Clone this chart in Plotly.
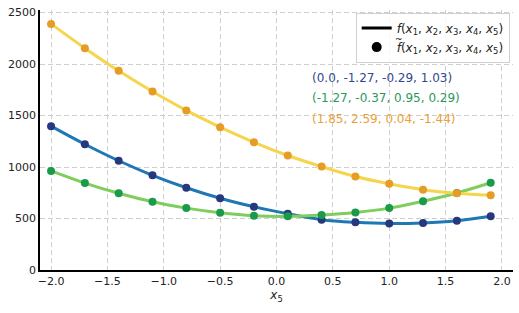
import plotly.graph_objects as go

x5 = [-2.0, -1.7, -1.4, -1.1, -0.8, -0.5, -0.2, 0.1, 0.4, 0.7, 1.0, 1.3, 1.6, 1.9]

blue_vals = [1397, 1221, 1061, 920, 799, 697, 614, 546, 489, 463, 451, 457, 479, 521]
green_vals = [962, 844, 745, 662, 601, 556, 527, 521, 534, 559, 601, 668, 748, 847]
orange_vals = [2390, 2154, 1934, 1733, 1550, 1387, 1240, 1112, 1004, 908, 837, 780, 745, 726]

labels = ["(0.0, -1.27, -0.29, 1.03)", "(-1.27, -0.37, 0.95, 0.29)", "(1.85, 2.59, 0.04, -1.44)"]
x_ticks = [-2.0, -1.5, -1.0, -0.5, 0.0, 0.5, 1.0, 1.5, 2.0]
y_ticks = [0, 500, 1000, 1500, 2000, 2500]

series = [
    (blue_vals, "#1f77b4", "#26397e"),
    (green_vals, "#7fcd5d", "#1b9a4a"),
    (orange_vals, "#f6d54c", "#e59d27"),
]
label_colors = ["#34488c", "#2a9a5a", "#e8a23a"]

fig = go.Figure()
for vals, lc, mc in series:
    fig.add_trace(go.Scatter(x=x5, y=vals, mode="lines", line=dict(color=lc, width=3, shape="spline"),
                             showlegend=False, hoverinfo="skip"))
for vals, lc, mc in series:
    fig.add_trace(go.Scatter(x=x5, y=vals, mode="markers", marker=dict(color=mc, size=8),
                             showlegend=False))

fn = "(<i>x</i><sub>1</sub>, <i>x</i><sub>2</sub>, <i>x</i><sub>3</sub>, <i>x</i><sub>4</sub>, <i>x</i><sub>5</sub>)"
fig.add_trace(go.Scatter(x=[None], y=[None], mode="lines", line=dict(color="black", width=3),
                         name="<i>f</i>" + fn))
fig.add_trace(go.Scatter(x=[None], y=[None], mode="markers", marker=dict(color="black", size=10),
                         name="<i>f</i>" + fn))

# tilde accent over the second legend entry's f
fig.add_annotation(x=0.759, y=0.89, xref="paper", yref="paper", text="~", showarrow=False,
                   xanchor="center", yanchor="middle", font=dict(size=9, color="black"))

for i, (t, c) in enumerate(zip(labels, label_colors)):
    fig.add_annotation(x=0.57, y=0.74 - i * 0.079, xref="paper", yref="paper", text=t,
                       showarrow=False, xanchor="left", yanchor="middle",
                       font=dict(color=c, size=12))

grid = dict(showgrid=True, gridcolor="#cfcfcf", gridwidth=1, griddash="5px,3px", zeroline=False)
fig.update_xaxes(range=[-2.098, 2.098], tickvals=x_ticks,
                 ticktext=[f"{v:.1f}".replace("-", "\u2212") for v in x_ticks],
                 showline=True, linecolor="black", linewidth=1.5, ticks="",
                 title=dict(text="<i>x</i><sub>5</sub>", font=dict(size=12), standoff=4), **grid)
fig.update_yaxes(range=[0, 2525], tickvals=y_ticks, ticktext=[str(v) for v in y_ticks],
                 showline=True, linecolor="black", linewidth=1.5, ticks="", **grid)

fig.update_layout(
    width=519, height=313, margin=dict(l=40, r=6, t=7, b=43),
    plot_bgcolor="white", paper_bgcolor="white",
    font=dict(family="DejaVu Sans", size=11, color="#222"),
    legend=dict(x=0.993, y=0.99, xanchor="right", yanchor="top", bordercolor="#d0d0d0",
                borderwidth=1, bgcolor="rgba(255,255,255,0.8)", font=dict(size=12, family="DejaVu Sans"),
                itemwidth=30, tracegroupgap=2),
)
fig.write_html("out.html")
